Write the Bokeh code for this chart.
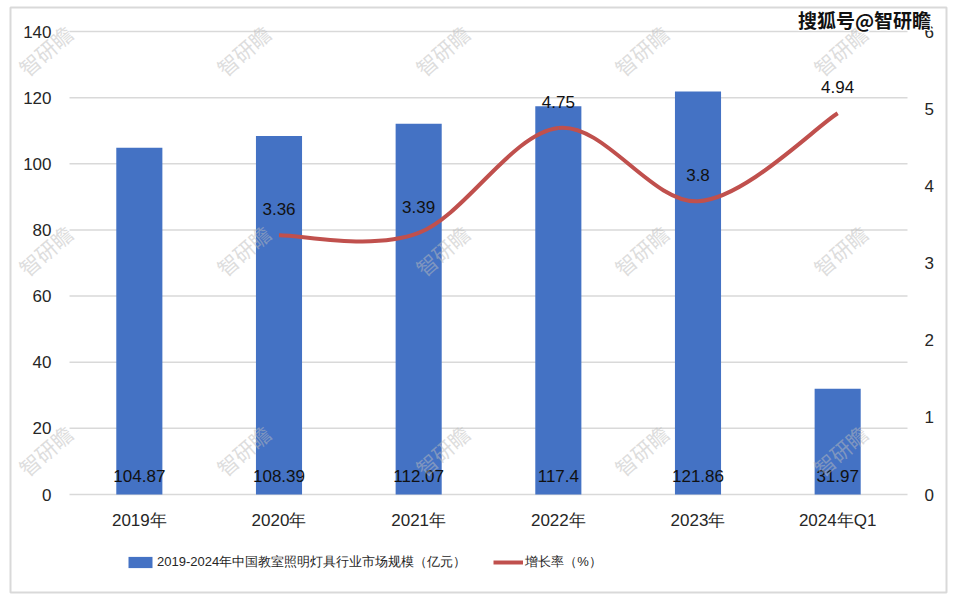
from bokeh.plotting import figure
from bokeh.models import (Range1d, LinearAxis, FixedTicker, Legend, LegendItem,
                          Label, ColumnDataSource)
from bokeh.core.properties import value
from bokeh.embed import file_html
from bokeh.resources import INLINE

# ---- data ----
categories = ["2019年", "2020年", "2021年", "2022年", "2023年", "2024年Q1"]
market_size = [104.87, 108.39, 112.07, 117.4, 121.86, 31.97]
rate_categories = ["2020年", "2021年", "2022年", "2023年", "2024年Q1"]
growth_rate = [3.36, 3.39, 4.75, 3.8, 4.94]
left_ticks = [0, 20, 40, 60, 80, 100, 120, 140]
right_ticks = [0, 1, 2, 3, 4, 5, 6]
bar_name = "2019-2024年中国教室照明灯具行业市场规模（亿元）"
line_name = "增长率（%）"
watermark = "智研瞻"
source_mark = "搜狐号@智研瞻"

BAR = "#4472C4"
LINE = "#C0504D"
GRID = "#D9D9D9"
TXT = "#262626"
FONT = "Liberation Sans"
CJK = "Noto Sans CJK SC"

W, H = 954, 599
# outer chart box (frame) and inner plot area, in pixels
OL, OR, OT, OB = 10, 946, 7, 592
PL, PR, PT, PB = 69, 907, 31, 494
LMAX, RMAX = 140, 6

ncat = len(categories)
ppc = (PR - PL) / ncat                 # pixels per category
ppu_l = (PB - PT) / LMAX               # pixels per left unit
ppu_r = (PB - PT) / RMAX               # pixels per right unit

xr = Range1d(-(PL - OL) / ppc, ncat + (OR - PR) / ppc)
yr = Range1d(-(OB - PB) / ppu_l, LMAX + (PT - OT) / ppu_l)

p = figure(width=W, height=H, x_range=xr, y_range=yr,
           output_backend="svg", toolbar_location=None,
           min_border_left=OL, min_border_right=W - OR, min_border_top=OT,
           min_border_bottom=H - OB)
p.outline_line_color = GRID
p.outline_line_width = 2
p.background_fill_color = "white"
p.border_fill_color = "white"
p.xgrid.grid_line_color = None
p.ygrid.grid_line_color = None

p.extra_y_ranges = {"rate": Range1d(-(OB - PB) / ppu_r, RMAX + (PT - OT) / ppu_r)}

xcenters = [i + 0.5 for i in range(ncat)]

# axes
xa = p.xaxis[0]
ya = p.yaxis[0]
for ax in [xa, ya]:
    ax.axis_line_color = None
    ax.major_tick_line_color = None
    ax.minor_tick_line_color = None
    ax.major_label_text_font = FONT
    ax.major_label_text_font_size = "17px"
    ax.major_label_text_color = TXT
ya.ticker = FixedTicker(ticks=left_ticks)
ya.major_label_standoff = -47
xa.ticker = FixedTicker(ticks=xcenters)
xa.major_label_overrides = {c: lab for c, lab in zip(xcenters, categories)}
xa.major_label_standoff = -88

raxis = LinearAxis(y_range_name="rate", ticker=FixedTicker(ticks=right_ticks))
raxis.axis_line_color = None
raxis.major_tick_line_color = None
raxis.minor_tick_line_color = None
raxis.major_label_text_font = FONT
raxis.major_label_text_font_size = "17px"
raxis.major_label_text_color = TXT
raxis.major_label_standoff = -28
p.add_layout(raxis, "right")

# horizontal gridlines across the category area
p.segment(x0=0, x1=ncat, y0=left_ticks, y1=left_ticks, line_color=GRID, line_width=1.5)

# bars
src = ColumnDataSource(dict(x=xcenters, top=market_size,
                            lbl=[f"{v:g}" for v in market_size]))
bars = p.vbar(x="x", top="top", width=0.33, source=src, fill_color=BAR, line_color=None)
p.text(x="x", y=0, text="lbl", source=src, text_align="center", text_baseline="middle",
       y_offset=-19, text_font=value(FONT), text_font_size="17px", text_color="#111111")

# smooth growth line (cubic Bezier segments through the data points)
idx = [categories.index(c) + 0.5 for c in rate_categories]
n = len(idx)
pts = list(zip(idx, growth_rate))
x0, y0, x1, y1, cx0, cy0, cx1, cy1 = ([] for _ in range(8))
for i in range(n - 1):
    pm = pts[i - 1] if i > 0 else pts[i]
    pa = pts[i]
    pb = pts[i + 1]
    pn = pts[i + 2] if i + 2 < n else pts[i + 1]
    x0.append(pa[0]); y0.append(pa[1]); x1.append(pb[0]); y1.append(pb[1])
    cx0.append(pa[0] + (pb[0] - pm[0]) / 6); cy0.append(pa[1] + (pb[1] - pm[1]) / 6)
    cx1.append(pb[0] - (pn[0] - pa[0]) / 6); cy1.append(pb[1] - (pn[1] - pa[1]) / 6)
line = p.bezier(x0=x0, y0=y0, x1=x1, y1=y1, cx0=cx0, cy0=cy0, cx1=cx1, cy1=cy1,
                line_color=LINE, line_width=4, y_range_name="rate")
rsrc = ColumnDataSource(dict(x=idx, y=growth_rate,
                             lbl=[f"{v:g}" for v in growth_rate]))
p.text(x="x", y="y", text="lbl", source=rsrc, y_range_name="rate", text_align="center",
       text_baseline="middle", y_offset=-26, text_font=value(FONT),
       text_font_size="17px", text_color="#111111")

# watermarks (screen coords relative to frame bottom-left)
for py in [50, 250, 450]:
    for px in [45, 243, 442, 641, 840]:
        p.add_layout(Label(x=px - OL, y=OB - py, x_units="screen", y_units="screen",
                           text=watermark, text_align="center", text_baseline="middle",
                           angle=41, angle_units="deg", text_font=CJK,
                           text_font_size="21px", text_color="#BBBBBB", text_alpha=0.5))

# source mark with white halo
for dx, dy in [(-1, 0), (1, 0), (0, -1), (0, 1), (-1, -1), (1, 1), (-1, 1), (1, -1)]:
    p.add_layout(Label(x=864 - OL + dx, y=OB - 19 + dy, x_units="screen", y_units="screen",
                       text=source_mark, text_align="center", text_baseline="middle",
                       text_font=CJK, text_font_style="bold", text_font_size="19px",
                       text_color="white"))
p.add_layout(Label(x=864 - OL, y=OB - 19, x_units="screen", y_units="screen",
                   text=source_mark, text_align="center", text_baseline="middle",
                   text_font=CJK, text_font_style="bold", text_font_size="19px",
                   text_color="#111111"))

legend = Legend(items=[LegendItem(label=bar_name, renderers=[bars]),
                       LegendItem(label=line_name, renderers=[line])],
                location=(125 - OL, OB - 571), orientation="horizontal",
                glyph_width=30, glyph_height=14, label_standoff=2, spacing=27,
                padding=0, margin=0, border_line_color=None,
                background_fill_alpha=0, label_text_font=FONT,
                label_text_font_size="13px", label_text_color=TXT)
p.add_layout(legend)

open("out.html", "w").write(file_html(p, INLINE))
